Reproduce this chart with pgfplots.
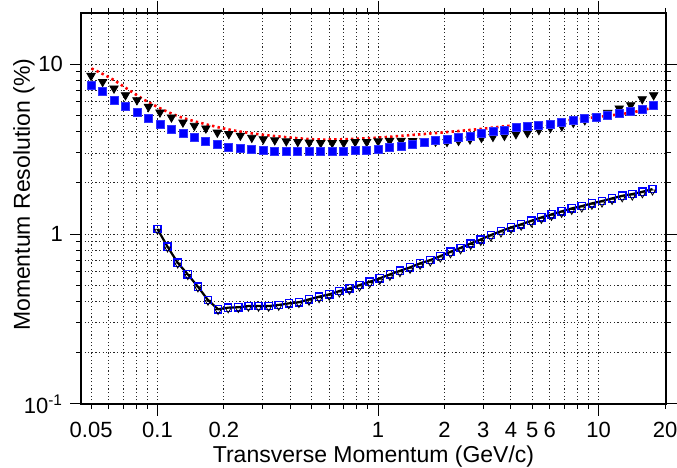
\documentclass[border=0pt]{standalone}
\usepackage{fontspec}
\setmainfont{Liberation Sans}
\usepackage{pgfplots}
\pgfplotsset{compat=1.18}
\usepackage{pgfplotstable}

\pgfplotstableread{
x sq tri
0.0500 7.46 8.54
0.0564 6.87 7.87
0.0635 6.14 7.20
0.0716 5.61 6.57
0.0807 5.20 6.14
0.0910 4.79 5.61
0.1026 4.44 5.20
0.1157 4.13 4.86
0.1304 3.91 4.54
0.1470 3.71 4.34
0.1657 3.51 4.19
0.1868 3.38 3.96
0.2106 3.25 3.88
0.2375 3.20 3.80
0.2677 3.16 3.69
0.3018 3.11 3.62
0.3402 3.05 3.57
0.3836 3.05 3.52
0.4324 3.05 3.49
0.4875 3.05 3.46
0.5496 3.05 3.44
0.6196 3.05 3.44
0.6985 3.05 3.44
0.7875 3.09 3.49
0.8877 3.11 3.49
1.0005 3.15 3.52
1.128 3.22 3.54
1.272 3.29 3.55
1.434 3.37 3.53
1.616 3.44 3.52
1.822 3.54 3.50
2.054 3.61 3.49
2.316 3.71 3.54
2.610 3.77 3.61
2.943 3.91 3.69
3.318 4.00 3.74
3.740 4.05 3.79
4.217 4.22 3.88
4.754 4.28 3.94
5.359 4.38 4.10
6.041 4.44 4.22
6.810 4.54 4.31
7.678 4.68 4.52
8.655 4.77 4.68
9.754 4.88 4.90
10.999 4.97 5.18
12.40 5.13 5.49
13.98 5.24 5.74
15.76 5.44 6.23
17.76 5.74 6.57
}\uppertab

\pgfplotstableread{
x sq tri
0.1000 1.070 1.043
0.1111 0.842 0.821
0.1235 0.678 0.661
0.1372 0.579 0.565
0.1525 0.490 0.478
0.1694 0.409 0.399
0.1883 0.361 0.352
0.2092 0.369 0.360
0.2325 0.371 0.362
0.2584 0.377 0.368
0.2871 0.377 0.368
0.3190 0.377 0.368
0.3545 0.383 0.373
0.3939 0.391 0.381
0.4377 0.397 0.387
0.4864 0.413 0.399
0.5405 0.428 0.413
0.6006 0.442 0.427
0.6674 0.462 0.446
0.7417 0.479 0.462
0.8241 0.501 0.483
0.9158 0.524 0.506
1.0177 0.549 0.530
1.1309 0.579 0.559
1.2567 0.608 0.587
1.3964 0.637 0.615
1.5518 0.673 0.649
1.7244 0.703 0.678
1.9162 0.742 0.716
2.1293 0.787 0.759
2.3660 0.830 0.801
2.6293 0.880 0.849
2.9215 0.930 0.897
3.2463 0.987 0.952
3.6075 1.041 1.005
4.0087 1.095 1.057
4.4544 1.141 1.101
4.9499 1.197 1.155
5.5005 1.254 1.210
6.1122 1.306 1.260
6.7920 1.360 1.312
7.5475 1.416 1.366
8.3869 1.461 1.410
9.3197 1.516 1.463
10.356 1.564 1.509
11.508 1.622 1.565
12.788 1.680 1.621
14.210 1.719 1.659
15.790 1.774 1.712
17.546 1.840 1.776
}\lowertab

\pgfplotstableread{
x y
0.0502 9.43
0.0627 8.13
0.0891 6.06
0.1261 4.90
0.1982 4.19
0.2906 3.86
0.4898 3.62
0.6702 3.61
0.9826 3.69
1.391 3.82
1.903 3.95
2.888 4.15
3.952 4.34
5.998 4.56
9.108 4.83
13.83 5.17
18.27 5.61
}\fittab

\begin{document}
\fontsize{11.5}{13.8}\selectfont
\begin{tikzpicture}
\begin{axis}[name=ax,
  xmode=log, ymode=log,
  scale only axis, width=292.5pt, height=195.5pt,
  xmin=0.045, xmax=20.2, ymin=0.1, ymax=20,
  xtick={0.05,0.1,0.2,1,2,3,4,5,6,10,20},
  xticklabels={0.05,0.1,0.2,1,2,3,4,5,6,10,20},
  minor xtick={0.06,0.07,0.08,0.09,0.3,0.4,0.5,0.6,0.7,0.8,0.9,7,8,9},
  extra x ticks={0.1,1,10}, extra x tick labels={},
  extra x tick style={major tick length=6pt, grid=none},
  ytick={0.1,1,10},
  yticklabels={10\textsuperscript{-1},1,10},
  extra y ticks={0.1,1,10}, extra y tick labels={},
  extra y tick style={major tick length=5.5pt, grid=none},
  minor ytick={0.2,0.3,0.4,0.5,0.6,0.7,0.8,0.9,2,3,4,5,6,7,8,9},
  grid=both,
  major grid style={black!85, line width=0.45pt, dash pattern=on 0.6pt off 1.2pt},
  minor grid style={black!85, line width=0.45pt, dash pattern=on 0.6pt off 1.2pt},
  tick align=outside, major tick length=2.5pt, minor tick length=2.5pt,
  tick style={black, line width=0.5pt},
  axis line style={line width=0.8pt},
  ticklabel style={font=\fontsize{11}{13}\selectfont},
  xticklabel style={yshift=-2.5pt},
  yticklabel style={xshift=-2.5pt},
  every axis x label/.style={at={([yshift=-29.3pt]axis description cs:0.5,0)}, anchor=base},
  every axis y label/.style={at={([xshift=-25.5pt]axis description cs:0,0.535)}, rotate=90, anchor=base},
  xlabel={Transverse Momentum (GeV/c)},
  ylabel={Momentum Resolution (\%)},
]
\addplot[red, line width=1.3pt, dash pattern=on 1.2pt off 1.6pt, smooth] table[x=x, y=y] {\fittab};
\addplot[only marks, mark=triangle*, mark size=2.4pt, mark options={rotate=180, fill=black, draw=black}] table[x=x, y=tri] {\uppertab};
\addplot[only marks, mark=square*, mark size=2pt, mark options={fill=blue, draw=blue!80}] table[x=x, y=sq] {\uppertab};
\addplot[only marks, mark=square, mark size=1.8pt, mark options={draw=blue, line width=0.7pt}] table[x=x, y=sq] {\lowertab};
\addplot[only marks, mark=triangle, mark size=1.7pt, mark options={rotate=180, draw=black, line width=0.4pt}] table[x=x, y=tri] {\lowertab};
\addplot[black, line width=1.1pt] table[x=x, y=sq] {\lowertab};
\end{axis}
\pgfresetboundingbox
\path[use as bounding box] ([shift={(-40.5pt,-32pt)}]ax.south west) rectangle ([shift={(5.5pt,6.5pt)}]ax.north east);
\end{tikzpicture}
\end{document}
